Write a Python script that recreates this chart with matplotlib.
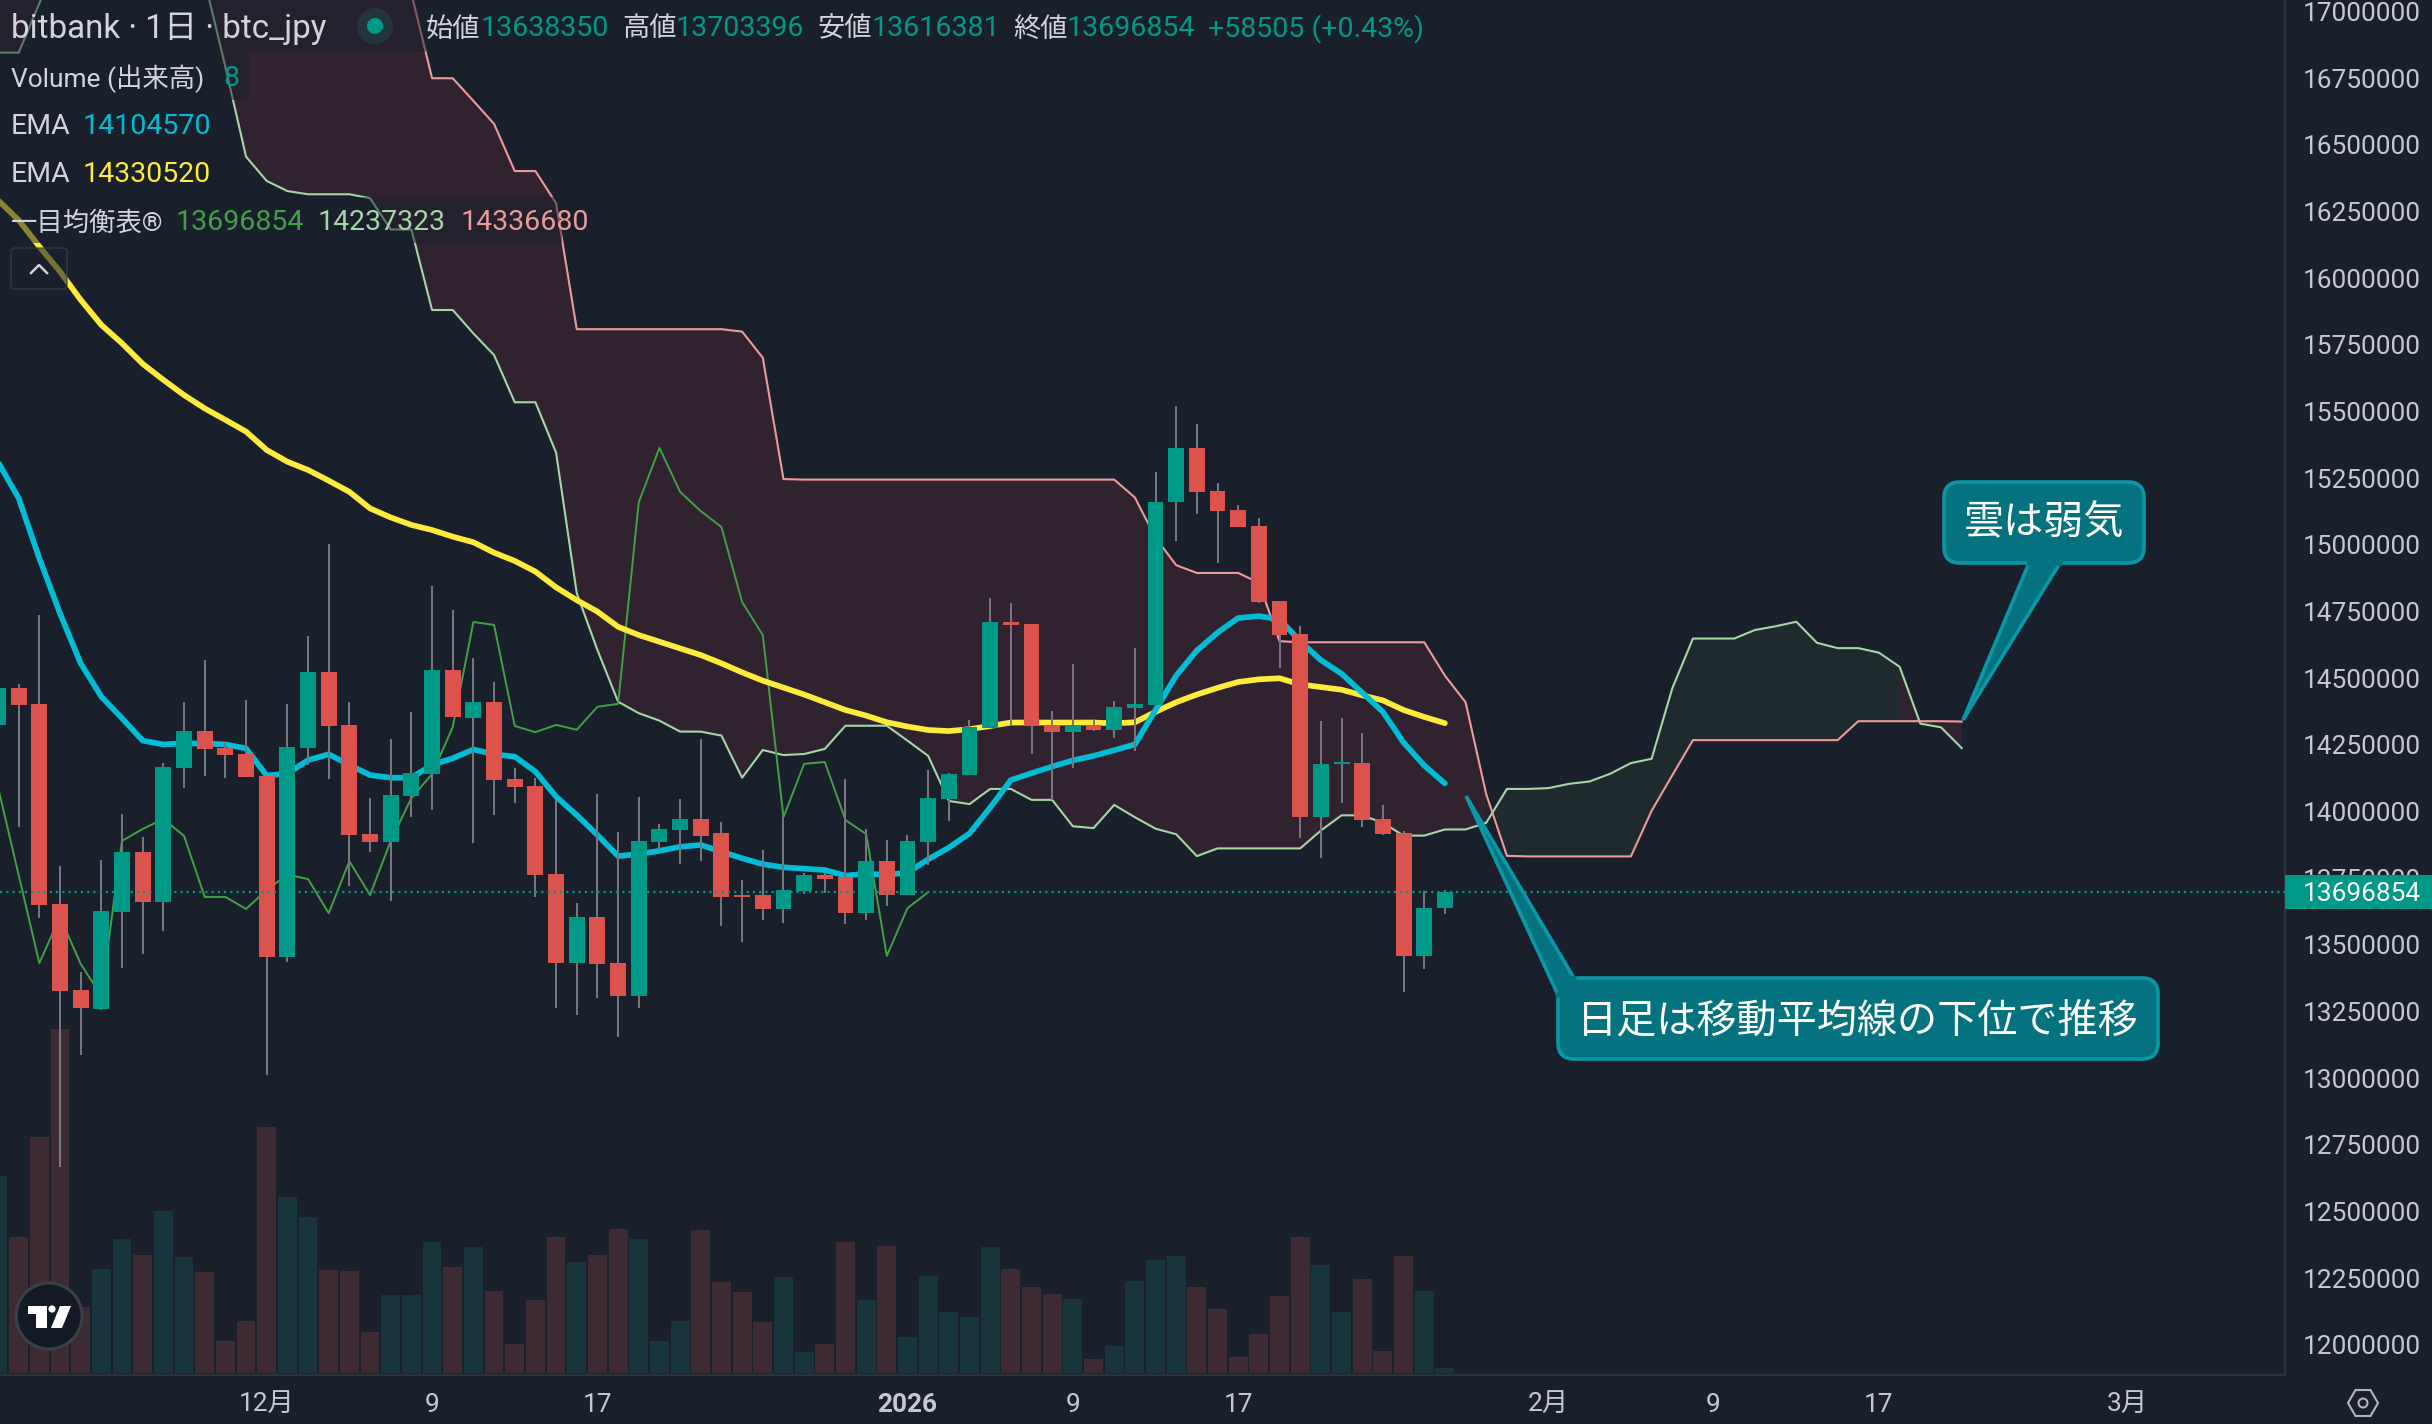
import numpy as np
import matplotlib
matplotlib.use("Agg")
import matplotlib.pyplot as plt
from matplotlib.patches import Circle, FancyBboxPatch, Polygon, Rectangle, RegularPolygon
from matplotlib.lines import Line2D
from matplotlib.transforms import Affine2D

plt.rcParams['font.family'] = ['Roboto', 'Noto Sans CJK JP', 'DejaVu Sans']

# ローソク足 (千円)
open_k = [14324,14462,14402,13652,13330,13259,13622,13848,13660,14162,
          14301,14238,14215,14132,13454,14238,14522,14324,13915,13885,
          14058,14140,14530,14350,14410,14121,14095,13765,13431,13604,
          13431,13308,13885,13930,13971,13919,13686,13686,13634,13701,
          13762,13752,13618,13813,13686,13885,14046,14136,14313,14710,
          14703,14323,14297,14324,14306,14387,14399,15159,15363,15201,
          15131,15070,14789,14664,13978,14178,14181,13971,13918,13458,13638.35]
high_k = [14480,14478,14736,13795,13398,13818,13990,13904,14180,14410,
          14568,14261,14418,14132,14402,14658,15002,14410,14050,14271,
          14372,14845,14755,14575,14485,14162,14125,14042,13656,14065,
          13922,14054,13952,14046,14271,13960,13742,13855,13980,13770,
          13770,14122,13932,13892,13911,14155,14143,14344,14801,14780,
          14703,14376,14552,14344,14413,14613,15273,15520,15452,15231,
          15148,15100,14789,14696,14337,14350,14294,14024,13925,13701,13703.396]
low_k = [14318,13942,13600,12668,13086,13255,13412,13465,13551,14088,
         14132,14125,14129,13011,13435,14174,14121,13720,13848,13664,
         13979,14005,14354,13881,13986,14031,13679,13262,13236,13300,
         13155,13262,13855,13802,13814,13570,13510,13592,13581,13691,
         13694,13578,13594,13645,13686,13799,13964,14136,14313,14323,
         14215,14043,14162,14301,14275,14228,14399,15014,15115,14933,
         15066,14782,14538,13899,13825,14033,13941,13911,13322,13409,13616.381]
close_k = [14462,14399,13649,13326,13262,13626,13848,13660,14166,14301,
           14234,14211,14129,13454,14241,14522,14320,13911,13885,14061,
           14144,14530,14354,14410,14118,14091,13761,13431,13604,13428,
           13308,13889,13934,13971,13908,13679,13679,13634,13705,13763,
           13746,13618,13813,13686,13889,14050,14140,14316,14710,14699,
           14320,14297,14324,14306,14392,14403,15159,15363,15198,15126,
           15066,14785,14661,13978,14178,14185,13967,13915,13458,13637,13696.854]

# 出来高
volume = [316,218,377,551,105,167,215,189,260,186,
          161,52,84,393,282,249,165,164,66,125,
          125,210,170,201,132,47,117,217,177,189,
          231,215,52,84,229,145,130,82,153,34,
          47,209,117,204,58,156,98,90,202,167,
          138,127,119,23,44,148,181,188,138,103,
          26,63,124,218,173,97,151,36,188,132,8]

# EMA (千円)
ema_fast_k = [15310,15174,14949,14742,14555,14430,14349,14265,14251,14255,
              14254,14251,14236,14134,14142,14192,14214,14174,14136,14126,
              14126,14174,14199,14232,14214,14205,14149,14055,13986,13911,
              13832,13840,13852,13867,13874,13849,13824,13802,13790,13785,
              13780,13759,13766,13762,13770,13820,13864,13917,14014,14117,
              14143,14168,14191,14208,14229,14251,14380,14509,14603,14670,
              14725,14732,14720,14638,14567,14516,14445,14373,14258,14172,14104.57]
ema_slow_k = [16292,16217,16118,16024,15918,15824,15755,15678,15618,15561,
              15511,15468,15424,15355,15311,15280,15240,15198,15136,15102,
              15074,15055,15030,15009,14970,14939,14899,14840,14792,14749,
              14692,14661,14636,14611,14586,14555,14521,14490,14464,14438,
              14409,14380,14359,14334,14318,14305,14301,14308,14320,14333,
              14333,14333,14333,14333,14330,14334,14373,14409,14438,14463,
              14485,14495,14499,14476,14466,14456,14435,14416,14380,14354,14330.52]

# 一目均衡表 先行スパン (千円)  i=3-9 と先行2の i<20 は画面外の推定
senkou_a_k = [16845,16845,17030,17200,17300,17350,17380,17380,17350,17250,
              17115,16792,16455,16364,16326,16314,16314,16314,16299,16182,
              16182,15880,15880,15792,15711,15534,15534,15345,14818,14605,
              14411,14368,14340,14299,14299,14284,14126,14230,14211,14215,
              14234,14321,14321,14321,14265,14208,14039,14027,14084,14084,
              14043,14043,13944,13937,14024,13978,13935,13914,13832,13861,
              13861,13861,13861,13861,13928,13985,13985,13957,13909,13909,
              13932,13932,13957,14084,14084,14087,14103,14112,14141,14181,
              14197,14461,14648,14648,14648,14680,14694,14711,14632,14612,
              14612,14595,14542,14329,14315,14237.323]
senkou_b_k = [18400,18400,18400,18300,18300,18200,18200,18100,18100,18000,
              18000,17900,17900,17800,17800,17700,17600,17500,17400,17200,
              17067,16749,16749,16664,16578,16401,16401,16280,15808,15808,
              15808,15808,15808,15808,15808,15808,15799,15701,15246,15244,
              15244,15244,15244,15244,15244,15244,15244,15244,15244,15244,
              15244,15244,15244,15244,15244,15177,15026,14923,14894,14894,
              14894,14857,14638,14634,14634,14634,14634,14634,14634,14634,
              14509,14409,14064,13833,13831,13831,13831,13831,13831,13831,
              14002,14135,14267,14267,14267,14267,14267,14267,14267,14267,
              14338,14338,14338,14338,14338,14336.68]

# 軸ラベル
price_ticks = list(range(12000000, 17000001, 250000))
date_ticks = [13, 21, 29, 44, 52, 60, 75, 83, 91, 103]
date_labels = ['12月', '9', '17', '2026', '9', '17', '2月', '9', '17', '3月']

W, H = 2432, 1424
PANE_W, PANE_H = 2285, 1375
BAR_PX = 20.67
BG = '#19202c'
UP = '#009988'
DOWN = '#dc524c'
TXT = '#d1d4dc'

opens = np.array(open_k) * 1000
highs = np.array(high_k) * 1000
lows = np.array(low_k) * 1000
closes = np.array(close_k) * 1000
ema_fast = np.array(ema_fast_k) * 1000
ema_slow = np.array(ema_slow_k) * 1000
senkou_a = np.array(senkou_a_k) * 1000
senkou_b = np.array(senkou_b_k) * 1000
vols = np.array(volume)
x = np.arange(len(opens))
x_cloud = np.arange(len(senkou_a))
chikou = closes[25:]

fig = plt.figure(figsize=(W / 100, H / 100), dpi=100, facecolor=BG)
ax_vol = fig.add_axes([0, 1 - PANE_H / H, PANE_W / W, PANE_H / H])
ax = ax_vol.twinx()
ax.set_zorder(2)
ax_vol.set_zorder(1)
ax.patch.set_visible(False)
ax_vol.set_facecolor(BG)

x_left = 2 / BAR_PX
ax_vol.set_xlim(x_left, x_left + PANE_W / BAR_PX)
ax.set_ylim(15250000 - (PANE_H - 478) * 3750, 15250000 + 478 * 3750)
ax_vol.set_ylim(-3.2, 1373 * 1.6)

# 出来高
is_up = closes >= opens
ax_vol.bar(x, vols, width=0.91, color=np.where(is_up, '#18343c', '#3e2a32'), linewidth=0)

# 雲 (区間の色は右端の値で決まる)
seg_up = senkou_a[1:] >= senkou_b[1:]
mask_up = np.zeros(len(x_cloud), bool)
mask_dn = np.zeros(len(x_cloud), bool)
mask_up[:-1] |= seg_up
mask_up[1:] |= seg_up
mask_dn[:-1] |= ~seg_up
mask_dn[1:] |= ~seg_up
ax.fill_between(x_cloud, senkou_a, senkou_b, where=mask_dn, color='#312230', linewidth=0, zorder=1)
ax.fill_between(x_cloud, senkou_a, senkou_b, where=mask_up, color='#1f2a2e', linewidth=0, zorder=1)
ax.plot(x_cloud, senkou_a, color='#a5d6a7', lw=1.5, zorder=2)
ax.plot(x_cloud, senkou_b, color='#ef9a9a', lw=1.5, zorder=2)
ax.plot(x[:len(chikou)], chikou, color='#43a047', lw=1.4, zorder=2)

# EMA はローソク足の下
ax.plot(x, ema_slow, color='#ffeb3b', lw=4.1, solid_capstyle='round', zorder=2.5)
ax.plot(x, ema_fast, color='#00bcd4', lw=4.1, solid_capstyle='round', zorder=2.5)

# ローソク足
ax.vlines(x, lows, highs, color='#76777e', lw=1.44, zorder=3)
ax.bar(x, np.abs(closes - opens), bottom=np.minimum(opens, closes), width=0.77,
       color=np.where(is_up, UP, DOWN), linewidth=0, zorder=4)
ax.axhline(closes[-1], color=UP, lw=1.6, ls=(0, (1, 1.8)), zorder=4.5)

# 軸
ax_vol.yaxis.set_visible(False)
ax.yaxis.tick_right()
ax.set_yticks(price_ticks)
ax.set_yticklabels([str(p) for p in price_ticks])
ax.tick_params(axis='y', length=0, pad=13, labelsize=18.9, labelcolor='#c5c8d0')
ax_vol.set_xticks(date_ticks)
ax_vol.set_xticklabels(date_labels)
ax_vol.tick_params(axis='x', length=0, pad=13, labelsize=18.9, labelcolor='#c5c8d0')
ax_vol.get_xticklabels()[3].set_fontweight('bold')
for a in (ax, ax_vol):
    for name, sp in a.spines.items():
        sp.set_visible(name in ('right', 'bottom'))
        sp.set_color('#2c333f')
        sp.set_linewidth(1.6)

# ここから先は画面ピクセル座標
pix = Affine2D().scale(1, -1).translate(0, H)


def label(px, py, s, color=TXT, size=20.5, ha='left', **kw):
    fig.text(px, py, s, color=color, fontsize=size, ha=ha, va='center',
             transform=pix, zorder=12, **kw)


def patch(p):
    fig.add_artist(p)
    return p


# 凡例の下地
for bx, by, bw, bh in [(0, 0, 426, 52), (0, 52, 249, 48), (0, 197, 562, 46)]:
    patch(Rectangle((bx, by), bw, bh, transform=pix, facecolor=BG, alpha=0.5,
                    edgecolor='none', zorder=10))

label(11, 29, 'bitbank · 1日 · btc_jpy', size=23.9)
patch(Circle((375, 26), 18, transform=pix, facecolor='#24343f', edgecolor='none', zorder=11))
patch(Circle((375, 26), 8, transform=pix, facecolor=UP, edgecolor='none', zorder=12))
for px, name, px_val, val in [(426, '始値', 481, '13638350'), (622, '高値', 676, '13703396'),
                              (817, '安値', 872, '13616381'), (1013, '終値', 1067, '13696854')]:
    label(px, 29, name, size=19.6)
    label(px_val, 29, val, color=UP)
label(1208, 29, '+58505 (+0.43%)', color=UP)
label(11, 79, 'Volume (出来高)', size=19)
label(223, 79, '8', color=UP)
label(11, 127, 'EMA')
label(83, 127, '14104570', color='#00bcd4')
label(11, 175, 'EMA')
label(83, 175, '14330520', color='#ffeb3b')
label(11, 223, '一目均衡表®', size=19)
label(176, 223, '13696854', color='#43a047')
label(318, 223, '14237323', color='#a5d6a7')
label(461, 223, '14336680', color='#ef9a9a')

# 折りたたみボタン
patch(FancyBboxPatch((11, 248), 56, 41, boxstyle='round,pad=0,rounding_size=4', transform=pix,
                     facecolor=BG, alpha=0.6, edgecolor='#3a404c', lw=1.3, zorder=10))
fig.add_artist(Line2D([31, 39, 47], [273, 265, 273], color='#d1d4dc', lw=1.8, transform=pix, zorder=12))

# 現在値ラベル
patch(Rectangle((2285, 875), 147, 34, transform=pix, facecolor=UP, edgecolor='none', zorder=10))
label(2303, 894, '13696854', color='#ffffff', size=18.9)

# ロゴ
patch(Circle((49, 1316), 33, transform=pix, facecolor='#131a26', edgecolor='#3a4049', lw=2.2, zorder=10))
patch(Polygon([(28, 1306), (47, 1306), (47, 1328), (36, 1328), (36, 1314), (28, 1314)],
              transform=pix, facecolor='white', edgecolor='none', zorder=11))
patch(Circle((52, 1309), 3.6, transform=pix, facecolor='white', edgecolor='none', zorder=11))
patch(Polygon([(60, 1306), (71, 1306), (62, 1328), (51, 1328)], transform=pix,
              facecolor='white', edgecolor='none', zorder=11))

# 設定アイコン
patch(RegularPolygon((2363, 1403), 6, radius=15, orientation=np.pi / 6, transform=pix, facecolor='none',
                     edgecolor='#b2b5be', lw=1.5, zorder=11))
patch(Circle((2363, 1403), 4.5, transform=pix, facecolor='none', edgecolor='#b2b5be', lw=1.5, zorder=11))

# コールアウト
CALL_FILL = '#05737f'
CALL_EDGE = '#0a98a8'


def callout(box, tip, base1, base2, text, dy=0):
    bx, by, bw, bh = box
    patch(FancyBboxPatch((bx, by), bw, bh, boxstyle='round,pad=0,rounding_size=16', transform=pix,
                         facecolor=CALL_FILL, edgecolor=CALL_EDGE, lw=2.6, zorder=13))
    patch(Polygon([tip, base1, base2], closed=True, transform=pix, facecolor=CALL_FILL,
                  edgecolor=CALL_EDGE, lw=2.6, joinstyle='miter', zorder=13))
    fig.add_artist(Line2D([base1[0], base2[0]], [base1[1], base2[1]], color=CALL_FILL, lw=3.4,
                          transform=pix, zorder=13))
    fig.text(bx + bw / 2, by + bh / 2 + dy, text, color='white', fontsize=28.9, ha='center', va='center',
             family=['Noto Sans CJK JP', 'DejaVu Sans'], transform=pix, zorder=14)


callout((1944, 482, 200, 81), (1963, 720), (2029, 563), (2060, 563), '雲は弱気', dy=1)
callout((1558, 978, 600, 81), (1466, 796), (1558, 995), (1574, 978), '日足は移動平均線の下位で推移', dy=3)

fig.savefig('out.png', dpi=100, facecolor=BG)
